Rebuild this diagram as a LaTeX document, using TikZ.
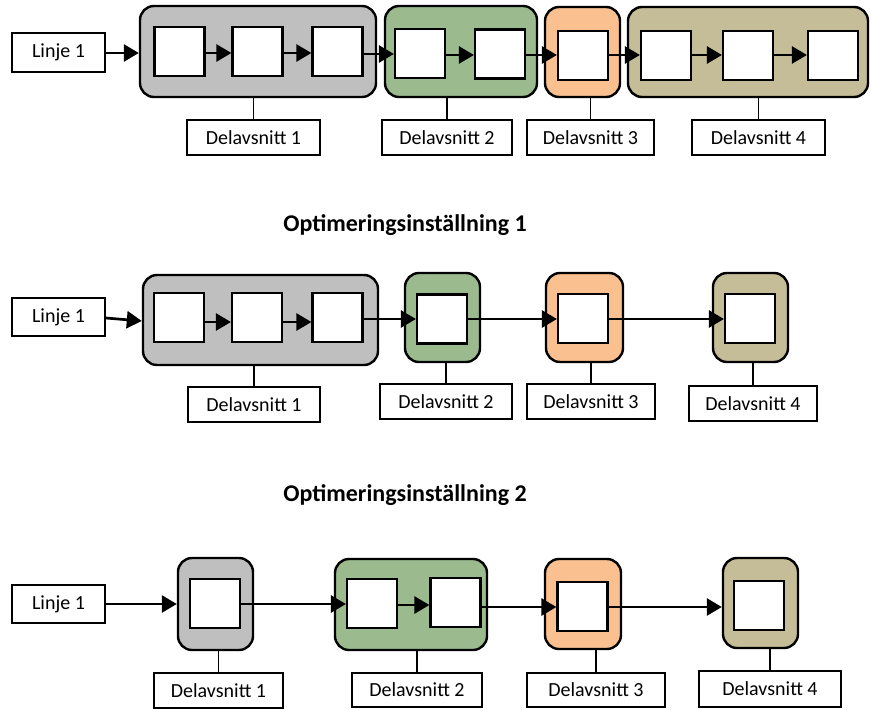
\documentclass[tikz,border=0pt]{standalone}
\usepackage{fontspec}
\setmainfont{Carlito}
\usetikzlibrary{arrows.meta}
\definecolor{segGray}{RGB}{191,191,191}
\definecolor{segGreen}{RGB}{155,187,143}
\definecolor{segOrange}{RGB}{250,192,144}
\definecolor{segTan}{RGB}{196,189,151}
\tikzset{
  group/.style={draw=black, line width=2.4pt, rounded corners=14pt, inner sep=0pt, fill=#1},
  cell/.style={draw=black, line width=2.2pt, fill=white, minimum width=50pt, minimum height=49pt, inner sep=0pt},
  label/.style={draw=black, line width=1.7pt, fill=white, minimum height=35pt, minimum width=#1, inner sep=0pt,
    font=\fontsize{20}{22}\selectfont},
  flow/.style={line width=2.7pt, -{Triangle[length=15pt,width=17pt]}},
  tie/.style={line width=1.7pt},
  heading/.style={font=\bfseries\fontsize{24}{26}\selectfont},
}
\newcommand{\grp}[6]{\node[group=#2, minimum width=#5, minimum height=#6] (#1) at (#3,#4) {};}
\begin{document}
\begin{tikzpicture}[x=1pt,y=-1pt]
\useasboundingbox (0,0) rectangle (872,709);

% ---------- first layout ----------
\node[label=93pt, minimum height=39pt] (la) at (58.5,52.5) {Linje 1};
\grp{ga}{segGray}{258}{51.5}{236pt}{91pt}
\grp{gb}{segGreen}{461}{51.5}{152pt}{91pt}
\grp{gc}{segOrange}{582.5}{52}{75pt}{90pt}
\grp{gd}{segTan}{748}{52}{240pt}{90pt}
\node[cell] (a1) at (179.5,51.5) {};
\node[cell] (a2) at (257.5,51.5) {};
\node[cell] (a3) at (337.5,51.5) {};
\node[cell] (b1) at (420,53.5) {};
\node[cell] (b2) at (500,54) {};
\node[cell] (c1) at (583,55.5) {};
\node[cell] (d1) at (666,55.5) {};
\node[cell] (d2) at (748,55.5) {};
\node[cell] (d3) at (833,55.5) {};
\draw[flow] (la.east |- 0,53) -- (ga.west |- 0,53);
\draw[flow] (a1.east |- 0,53) -- (a2.west |- 0,53);
\draw[flow] (a2.east |- 0,53) -- (a3.west |- 0,53);
\draw[flow] (a3.east |- 0,54) -- (b1.west |- 0,54);
\draw[flow] (b1.east |- 0,55) -- (b2.west |- 0,55);
\draw[flow] (b2.east |- 0,55) -- (c1.west |- 0,55);
\draw[flow] (c1.east |- 0,55) -- (d1.west |- 0,55);
\draw[flow] (d1.east |- 0,55) -- (d2.west |- 0,55);
\draw[flow] (d2.east |- 0,55) -- (d3.west |- 0,55);
\node[label=133pt] (pa1) at (253.5,137.5) {Delavsnitt 1};
\node[label=130pt] (pa2) at (447,137.5) {Delavsnitt 2};
\node[label=127pt] (pa3) at (590.5,137.5) {Delavsnitt 3};
\node[label=133pt] (pa4) at (758.5,137.5) {Delavsnitt 4};
\draw[tie] (pa1.north) -- (pa1.north |- ga.south);
\draw[tie] (pa2.north) -- (pa2.north |- gb.south);
\draw[tie] (pa3.north) -- (pa3.north |- gc.south);
\draw[tie] (pa4.north) -- (pa4.north |- gd.south);

\node[heading] (h1) at (405,225) {Optimeringsinställning 1};

% ---------- second layout ----------
\node[label=93pt, minimum height=38pt] (lb) at (58.5,317) {Linje 1};
\grp{ha}{segGray}{260.5}{320}{235pt}{90pt}
\grp{hb}{segGreen}{442.5}{317.5}{75pt}{89pt}
\grp{hc}{segOrange}{584.5}{317.5}{77pt}{89pt}
\grp{hd}{segTan}{750.5}{317.5}{75pt}{89pt}
\node[cell] (e1) at (179,317.5) {};
\node[cell] (e2) at (257,317.5) {};
\node[cell] (e3) at (337.5,317.5) {};
\node[cell] (f1) at (442,319) {};
\node[cell] (g1) at (583,318.5) {};
\node[cell] (k1) at (750,318.5) {};
\draw[flow] (lb.east |- 0,318) -- (ha.west |- 0,321);
\draw[flow] (e1.east |- 0,322) -- (e2.west |- 0,322);
\draw[flow] (e2.east |- 0,322) -- (e3.west |- 0,322);
\draw[flow] (e3.east |- 0,319) -- (f1.west |- 0,319);
\draw[flow] (f1.east |- 0,319) -- (g1.west |- 0,319);
\draw[flow] (g1.east |- 0,319) -- (k1.west |- 0,319);
\node[label=132pt] (pb1) at (254,404.5) {Delavsnitt 1};
\node[label=132pt] (pb2) at (446,401.5) {Delavsnitt 2};
\node[label=128pt] (pb3) at (591,401.5) {Delavsnitt 3};
\node[label=128pt] (pb4) at (753,403.5) {Delavsnitt 4};
\draw[tie] (pb1.north) -- (pb1.north |- ha.south);
\draw[tie] (pb2.north) -- (pb2.north |- hb.south);
\draw[tie] (pb3.north) -- (pb3.north |- hc.south);
\draw[tie] (pb4.north) -- (pb4.north |- hd.south);

\node[heading] (h2) at (405,495) {Optimeringsinställning 2};

% ---------- third layout ----------
\node[label=93pt, minimum height=38pt] (lc) at (58.5,604) {Linje 1};
\grp{ia}{segGray}{215.5}{604}{75pt}{92pt}
\grp{ib}{segGreen}{411}{604.5}{152pt}{91pt}
\grp{ic}{segOrange}{583}{604}{76pt}{90pt}
\grp{id}{segTan}{760.5}{603}{75pt}{90pt}
\node[cell] (m1) at (215,603.5) {};
\node[cell] (n1) at (372,603.5) {};
\node[cell] (n2) at (455.5,602.5) {};
\node[cell] (o1) at (582.5,606.5) {};
\node[cell] (q1) at (759,605.5) {};
\draw[flow] (lc.east |- 0,604) -- (ia.west |- 0,604);
\draw[flow] (m1.east |- 0,604) -- (n1.west |- 0,604);
\draw[flow] (n1.east |- 0,605) -- (n2.west |- 0,605);
\draw[flow] (n2.east |- 0,607) -- (o1.west |- 0,607);
\draw[flow] (o1.east |- 0,607) -- (id.west |- 0,607);
\node[label=129pt] (pc1) at (218.5,690.5) {Delavsnitt 1};
\node[label=130pt, minimum height=34pt] (pc2) at (417,690) {Delavsnitt 2};
\node[label=138pt, minimum height=34pt] (pc3) at (596,690) {Delavsnitt 3};
\node[label=142pt, minimum height=36pt] (pc4) at (770,689) {Delavsnitt 4};
\draw[tie] (pc1.north) -- (pc1.north |- ia.south);
\draw[tie] (pc2.north) -- (pc2.north |- ib.south);
\draw[tie] (pc3.north) -- (pc3.north |- ic.south);
\draw[tie] (pc4.north) -- (pc4.north |- id.south);
\end{tikzpicture}
\end{document}
